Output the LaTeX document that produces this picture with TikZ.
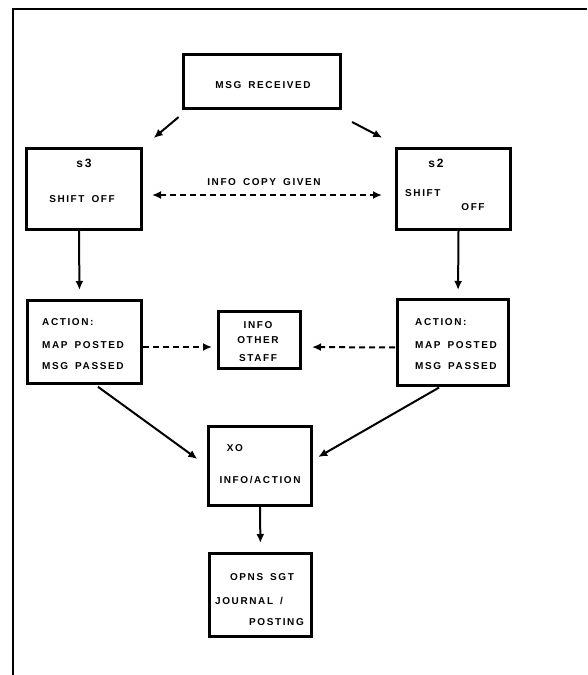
\documentclass[tikz,border=0pt]{standalone}
\usepackage{fontspec}
\newfontfamily\chartFont[LetterSpace=16, WordSpace=1.6]{Liberation Sans}
\usetikzlibrary{arrows.meta,positioning}
\tikzstyle{chart} = [x = 1pt, y = -1pt]
\tikzstyle{frameLine} = [line width = 1.5pt]
\tikzstyle{boxStyle} = [draw, line width = 3.3pt, inner sep = 0pt]
\tikzstyle{flowArrow} = [line width = 2pt, -{Latex[length=9pt,width=8pt]}]
\tikzstyle{dashArrow} = [flowArrow, dash pattern = on 6pt off 4pt]
\tikzstyle{dashArrowBoth} = [dashArrow, {Latex[length=9pt,width=8pt]}-{Latex[length=9pt,width=8pt]}]
\tikzstyle{boxText} = [font=\chartFont\bfseries\fontsize{10}{11}\selectfont, inner sep = 0pt]
\tikzstyle{shiftText} = [font=\chartFont\bfseries\fontsize{12}{13}\selectfont, inner sep = 0pt]
\newcommand{\flowBox}[5]{\node [boxStyle, minimum width = #4pt - 3.3pt, minimum height = #5pt - 3.3pt] (#1) at (#2, #3) {};}

\begin{document}
\begin{tikzpicture}[chart]
  \useasboundingbox (0, 0) rectangle (587, 675);
  \draw [frameLine] (587, 9) -- (13, 9) -- (13, 675);

  % boxes
  \flowBox{msg}{262}{81.5}{160}{57}
  \flowBox{s3}{84}{189}{118}{84}
  \flowBox{s2}{453.5}{189}{117}{84}
  \flowBox{act3}{84.5}{342}{117}{86}
  \flowBox{info}{259.5}{340}{85}{60}
  \flowBox{act2}{453}{342.5}{114}{89}
  \flowBox{xo}{260}{466}{106}{82}
  \flowBox{opns}{260.5}{595}{105}{86}

  % texts
  \node [boxText] (msgText) at (263, 85) {MSG RECEIVED};
  \node [shiftText] (s3Text) at (84, 163) {s3};
  \node [boxText] (s3Off) at (82, 199) {SHIFT OFF};
  \node [shiftText] (s2Text) at (436, 163) {s2};
  \node [boxText, anchor = west] (s2Shift) at (405, 193) {SHIFT};
  \node [boxText] (s2Off) at (473, 207) {OFF};
  \foreach \name/\xpos in {act3/42, act2/415} {
    \node [boxText, anchor = west] (\name Head) at (\xpos, 322) {ACTION:};
    \node [boxText, anchor = west] (\name Map) at (\xpos, 345) {MAP POSTED};
    \node [boxText, anchor = west] (\name Msg) at (\xpos, 366) {MSG PASSED};
  }
  \node [boxText] (infoA) at (258, 325) {INFO};
  \node [boxText] (infoB) at (258, 340) {OTHER};
  \node [boxText] (infoC) at (258, 358) {STAFF};
  \node [boxText] (xoText) at (235, 448) {XO};
  \node [boxText] (xoAction) at (260, 480) {INFO/ACTION};
  \node [boxText] (opnsText) at (262, 577) {OPNS SGT};
  \node [boxText, anchor = west] (opnsJournal) at (215, 601) {JOURNAL /};
  \node [boxText, anchor = east] (opnsPosting) at (304, 622) {POSTING};

  % connectors
  \draw [flowArrow, shorten <= 11pt, shorten >= 14pt] ([xshift = 5pt]msg.south west) -- (s3.north east);
  \draw [flowArrow, shorten <= 26pt, shorten >= 20pt] ([xshift = -13pt]msg.south east) -- ([xshift = 5pt]s2.north west);
  \draw [dashArrowBoth, shorten <= 9pt, shorten >= 13pt] ([yshift = -6pt]s3.east) -- ([yshift = -6pt]s2.west)
    node [boxText, midway, above = 8pt, xshift = -5pt] (copyText) {INFO COPY GIVEN};
  \draw [flowArrow, shorten >= 9pt] ([xshift = -5pt]s3.south) -- ([xshift = -5pt]act3.north);
  \draw [flowArrow, shorten >= 8pt] ([xshift = 5pt]s2.south) -- ([xshift = 5pt]act2.north);
  \draw [dashArrow, shorten >= 5pt] ([yshift = -5pt]act3.east) -- ([yshift = -7pt]info.west);
  \draw [dashArrow, shorten <= 1pt, shorten >= 10pt] ([yshift = -5pt]act2.west) -- ([yshift = -7pt]info.east);
  \draw [flowArrow, shorten <= 3pt, shorten >= 12pt] ([xshift = 11pt]act3.south) -- (xo.west);
  \draw [flowArrow, shorten <= 1pt, shorten >= 6pt] ([xshift = -13pt]act2.south) -- ([yshift = 6pt]xo.east);
  \draw [flowArrow, shorten >= 9pt] (xo.south) -- (opns.north);
\end{tikzpicture}
\end{document}
